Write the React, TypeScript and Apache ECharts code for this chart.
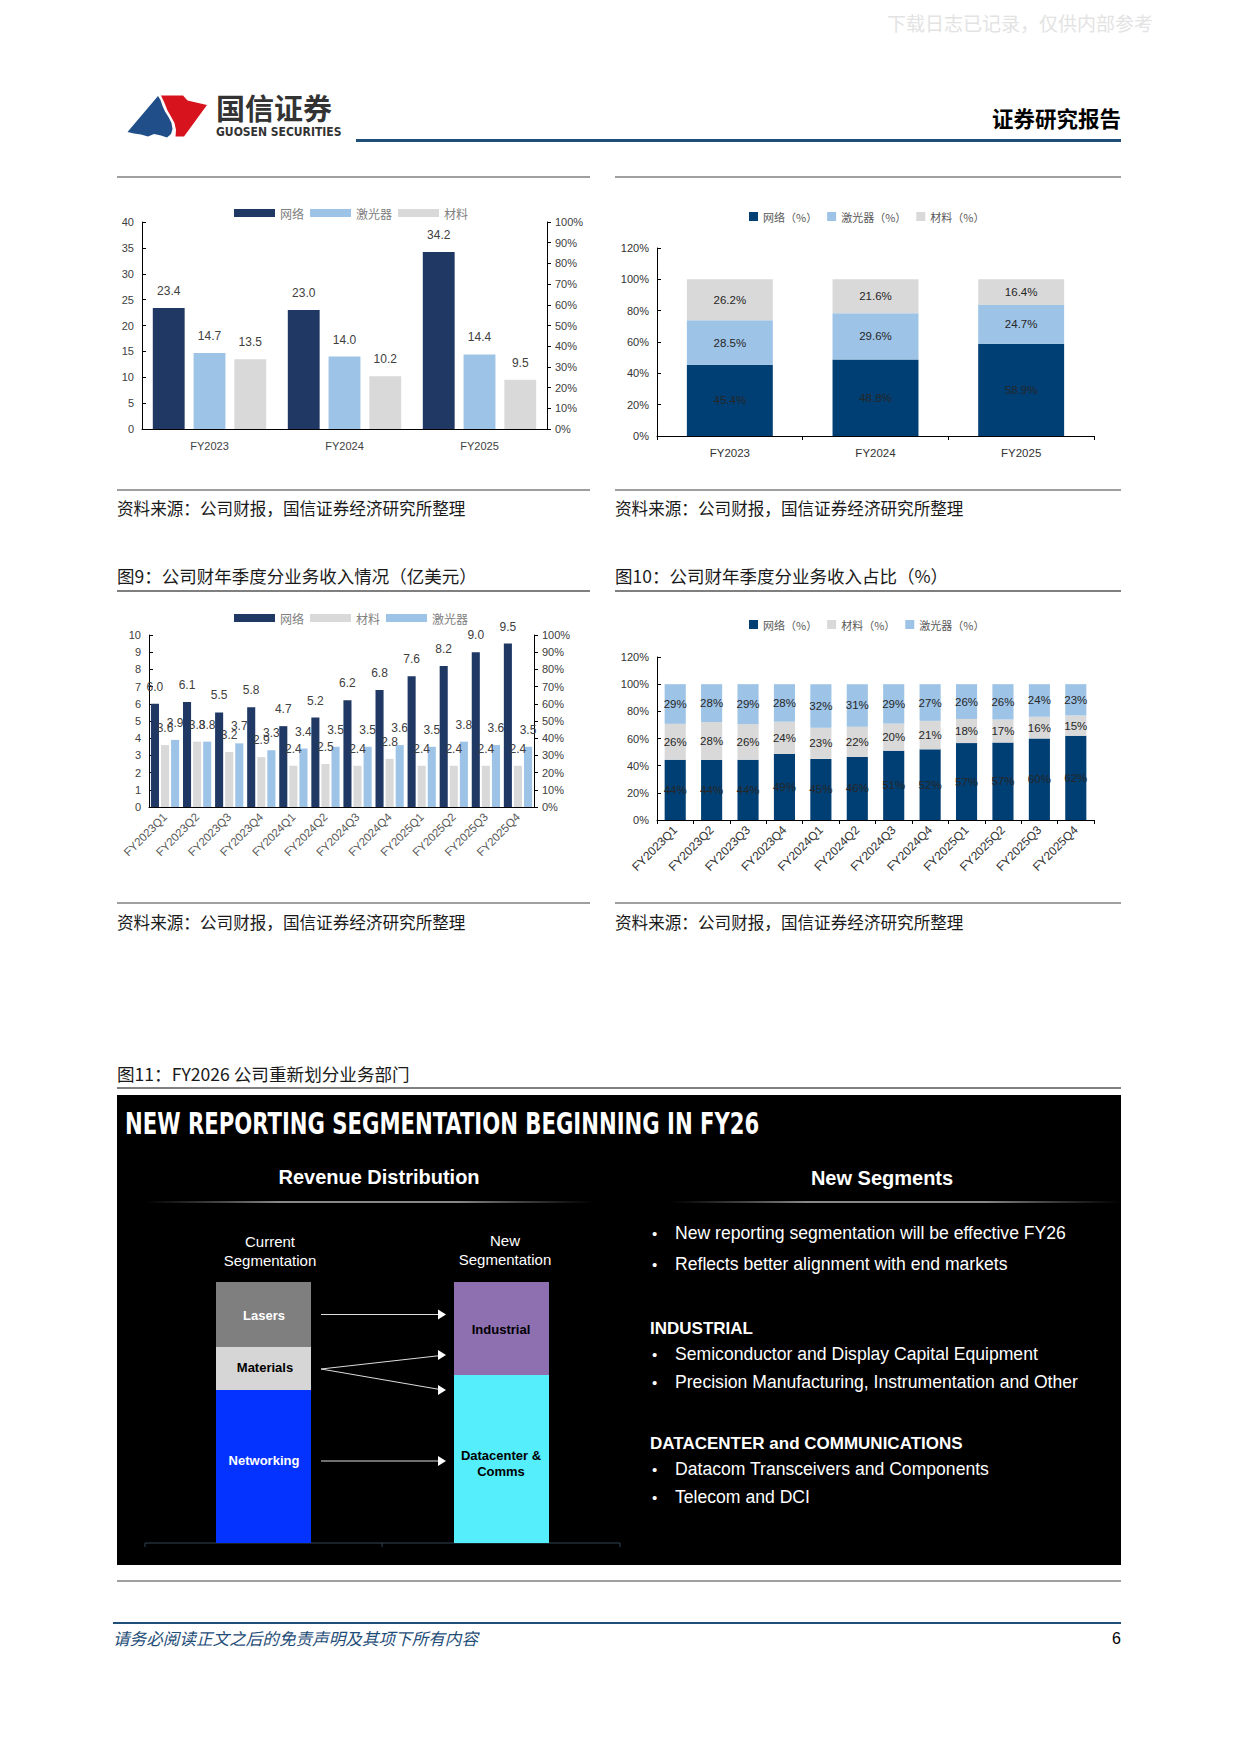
import React, { useEffect, useRef } from 'react';
import * as echarts from 'echarts';

// ---------- data ----------
const annualCats = ['FY2023', 'FY2024', 'FY2025'];
const annualNetwork = [23.4, 23.0, 34.2];
const annualLaser = [14.7, 14.0, 14.4];
const annualMaterial = [13.5, 10.2, 9.5];

const annualNetworkPct = [45.4, 48.8, 58.9];
const annualLaserPct = [28.5, 29.6, 24.7];
const annualMaterialPct = [26.2, 21.6, 16.4];

const quarterCats = [
  'FY2023Q1', 'FY2023Q2', 'FY2023Q3', 'FY2023Q4',
  'FY2024Q1', 'FY2024Q2', 'FY2024Q3', 'FY2024Q4',
  'FY2025Q1', 'FY2025Q2', 'FY2025Q3', 'FY2025Q4',
];
const qNetwork = [6.0, 6.1, 5.5, 5.8, 4.7, 5.2, 6.2, 6.8, 7.6, 8.2, 9.0, 9.5];
const qMaterial = [3.6, 3.8, 3.2, 2.9, 2.4, 2.5, 2.4, 2.8, 2.4, 2.4, 2.4, 2.4];
const qLaser = [3.9, 3.8, 3.7, 3.3, 3.4, 3.5, 3.5, 3.6, 3.5, 3.8, 3.6, 3.5];

const qNetworkPct = [44.4, 44.2, 44.4, 48.6, 45.0, 46.4, 51.0, 52.0, 56.6, 57.0, 60.0, 62.0];
const qMaterialPct = [26.4, 27.9, 26.2, 23.8, 23.0, 22.3, 20.0, 21.0, 17.8, 17.0, 16.0, 15.0];
const qLaserPct = [29.2, 27.9, 29.4, 27.6, 32.0, 31.3, 29.0, 27.0, 25.6, 26.0, 24.0, 23.0];

const leftTicks40 = { min: 0, max: 40, interval: 5 };
const leftTicks10 = { min: 0, max: 10, interval: 1 };
const pctTicks100 = { min: 0, max: 100, interval: 10 };
const pctTicks120 = { min: 0, max: 120, interval: 20 };

// ---------- styles ----------
const NAVY = '#1F3864';
const NAVY2 = '#003F74';
const LBLUE = '#9DC3E6';
const GRAY = '#D9D9D9';
const CJK = '"Noto Sans CJK SC", "Liberation Sans", sans-serif';
const SANS = '"Liberation Sans", Arial, sans-serif';
const NARROW = '"Liberation Sans Narrow", "DejaVu Sans Condensed", "Liberation Sans", sans-serif';

function txt(x: number, y: number, text: string, o: any = {}) {
  return {
    type: 'text',
    x, y,
    scaleX: o.scaleX ?? 1,
    style: {
      text,
      fontSize: o.fontSize ?? 14,
      fontFamily: o.fontFamily ?? CJK,
      fontWeight: o.fontWeight ?? 'normal',
      fontStyle: o.fontStyle ?? 'normal',
      fill: o.fill ?? '#000',
      textAlign: o.align ?? 'left',
      textVerticalAlign: 'middle',
      lineHeight: o.lineHeight,
    },
    z: 10,
  };
}
function ln(x1: number, y1: number, x2: number, y2: number, stroke: string, lineWidth = 1) {
  return { type: 'line', shape: { x1, y1, x2, y2 }, style: { stroke, lineWidth }, z: 5 };
}
function box(x: number, y: number, w: number, h: number, fill: any, z = 4) {
  return { type: 'rect', shape: { x, y, width: w, height: h }, style: { fill }, z };
}
function arrowHead(x: number, y: number) {
  return { type: 'polygon', shape: { points: [[x - 8, y - 5], [x, y], [x - 8, y + 5]] }, style: { fill: '#fff' }, z: 12 };
}
const fadeLine = (x: number, y: number, w: number) =>
  box(x, y, w, 2, {
    type: 'linear', x: 0, y: 0, x2: 1, y2: 0,
    colorStops: [
      { offset: 0, color: 'rgba(120,120,120,0)' },
      { offset: 0.3, color: 'rgba(150,150,150,0.9)' },
      { offset: 0.7, color: 'rgba(150,150,150,0.9)' },
      { offset: 1, color: 'rgba(120,120,120,0)' },
    ],
  }, 8);

const sourceText = '资料来源：公司财报，国信证券经济研究所整理';

const graphics: any[] = [
  // watermark
  txt(887, 22, '下载日志已记录，仅供内部参考', { fontSize: 19, fill: '#E3E3E3' }),
  // logo
  {
    type: 'polygon', z: 10,
    shape: { points: [[127.5, 132], [158, 96], [160.5, 100], [162.5, 106], [165, 111.5], [168.5, 117], [171.5, 123], [172.5, 129], [171, 134], [167, 137.5], [161, 135.5], [154, 134], [148, 136.5], [141, 134.5], [134, 133.5]] },
    style: { fill: '#1F4E89' },
  },
  {
    type: 'polygon', z: 10,
    shape: { points: [[161, 95.5], [183, 95.5], [187.5, 100.5], [207, 105], [184, 136.5], [175.5, 136.5], [176, 130], [174.5, 123], [171, 116.5], [167.5, 110.5], [164.5, 103]] },
    style: { fill: '#D7141E' },
  },
  txt(216, 107, '国信证券', { fontSize: 29, fill: '#333', fontWeight: 'bold' }),
  txt(216, 132, 'GUOSEN SECURITIES', { fontSize: 12, fontFamily: NARROW, fontWeight: 'bold', fill: '#333' }),
  txt(1121, 117, '证券研究报告', { fontSize: 21.5, fontWeight: 'bold', align: 'right' }),
  box(356, 139, 765, 3, '#1F4E79', 6),

  // top panels
  ln(117, 177, 590, 177, '#404040', 1.2),
  ln(615, 177, 1121, 177, '#404040', 1.2),
  ln(117, 490, 590, 490, '#404040', 1.2),
  ln(615, 490, 1121, 490, '#404040', 1.2),
  txt(117, 508, sourceText, { fontSize: 16.6, fill: '#1a1a1a' }),
  txt(615, 508, sourceText, { fontSize: 16.6, fill: '#1a1a1a' }),

  // middle panels
  txt(117, 575, '图9：公司财年季度分业务收入情况（亿美元）', { fontSize: 17.5, fill: '#1a1a1a' }),
  txt(615, 575, '图10：公司财年季度分业务收入占比（%）', { fontSize: 17.5, fill: '#1a1a1a' }),
  ln(117, 591, 590, 591, '#7F7F7F', 2),
  ln(615, 591, 1121, 591, '#7F7F7F', 2),
  ln(117, 903, 590, 903, '#404040', 1.2),
  ln(615, 903, 1121, 903, '#404040', 1.2),
  txt(117, 922, sourceText, { fontSize: 16.6, fill: '#1a1a1a' }),
  txt(615, 922, sourceText, { fontSize: 16.6, fill: '#1a1a1a' }),

  // figure 11
  txt(117, 1073, '图11：FY2026 公司重新划分业务部门', { fontSize: 17.6, fill: '#1a1a1a' }),
  ln(117, 1088, 1121, 1088, '#000', 1),
  box(117, 1095, 1004, 470, '#000', 3),
  txt(125, 1123, 'NEW REPORTING SEGMENTATION BEGINNING IN FY26', { fontSize: 31, fontFamily: NARROW, fontWeight: 'bold', fill: '#fff', scaleX: 0.76 }),
  txt(379, 1177, 'Revenue Distribution', { fontSize: 20, fontFamily: SANS, fontWeight: 'bold', fill: '#fff', align: 'center' }),
  txt(882, 1178, 'New Segments', { fontSize: 20, fontFamily: SANS, fontWeight: 'bold', fill: '#fff', align: 'center' }),
  fadeLine(144, 1201, 450),
  fadeLine(670, 1201, 451),

  txt(270, 1251, 'Current\nSegmentation', { fontSize: 15, fontFamily: SANS, fill: '#fff', align: 'center', lineHeight: 19 }),
  txt(505, 1250, 'New\nSegmentation', { fontSize: 15, fontFamily: SANS, fill: '#fff', align: 'center', lineHeight: 19 }),

  box(216, 1282, 95, 65, '#7F7F7F', 6),
  box(216, 1347, 95, 43, '#D6D6D6', 6),
  box(216, 1390, 95, 153, '#0433FF', 6),
  box(454, 1282, 95, 93, '#8E6FB0', 6),
  box(454, 1375, 95, 168, '#55EEFC', 6),
  txt(264, 1315, 'Lasers', { fontSize: 13, fontFamily: SANS, fontWeight: 'bold', fill: '#fff', align: 'center' }),
  txt(265, 1367, 'Materials', { fontSize: 13, fontFamily: SANS, fontWeight: 'bold', fill: '#000', align: 'center' }),
  txt(264, 1460, 'Networking', { fontSize: 13, fontFamily: SANS, fontWeight: 'bold', fill: '#fff', align: 'center' }),
  txt(501, 1329, 'Industrial', { fontSize: 13, fontFamily: SANS, fontWeight: 'bold', fill: '#000', align: 'center' }),
  txt(501, 1463, 'Datacenter &\nComms', { fontSize: 13, fontFamily: SANS, fontWeight: 'bold', fill: '#000', align: 'center', lineHeight: 16 }),

  ln(321, 1314.5, 440, 1314.5, '#ddd', 1),
  arrowHead(446, 1314.5),
  ln(321, 1369, 440, 1355.6, '#ddd', 1),
  arrowHead(446, 1355),
  ln(321, 1369, 440, 1389.5, '#ddd', 1),
  arrowHead(446, 1390),
  ln(321, 1461, 440, 1461, '#ddd', 1),
  arrowHead(446, 1461),

  ln(145, 1543, 620, 1543, '#2E4650', 1),
  ln(145, 1543, 145, 1547, '#2E4650', 1),
  ln(382, 1543, 382, 1547, '#2E4650', 1),
  ln(620, 1543, 620, 1547, '#2E4650', 1),

  txt(652, 1233, '•', { fontSize: 15, fontFamily: SANS, fill: '#fff' }),
  txt(675, 1233, 'New reporting segmentation will be effective FY26', { fontSize: 17.6, fontFamily: SANS, fill: '#fff' }),
  txt(652, 1264, '•', { fontSize: 15, fontFamily: SANS, fill: '#fff' }),
  txt(675, 1264, 'Reflects better alignment with end markets', { fontSize: 17.6, fontFamily: SANS, fill: '#fff' }),
  txt(650, 1328, 'INDUSTRIAL', { fontSize: 17, fontFamily: SANS, fontWeight: 'bold', fill: '#fff' }),
  txt(652, 1354, '•', { fontSize: 15, fontFamily: SANS, fill: '#fff' }),
  txt(675, 1354, 'Semiconductor and Display Capital Equipment', { fontSize: 17.6, fontFamily: SANS, fill: '#fff' }),
  txt(652, 1382, '•', { fontSize: 15, fontFamily: SANS, fill: '#fff' }),
  txt(675, 1382, 'Precision Manufacturing, Instrumentation and Other', { fontSize: 17.6, fontFamily: SANS, fill: '#fff' }),
  txt(650, 1443, 'DATACENTER and COMMUNICATIONS', { fontSize: 17, fontFamily: SANS, fontWeight: 'bold', fill: '#fff' }),
  txt(652, 1469, '•', { fontSize: 15, fontFamily: SANS, fill: '#fff' }),
  txt(675, 1469, 'Datacom Transceivers and Components', { fontSize: 17.6, fontFamily: SANS, fill: '#fff' }),
  txt(652, 1497, '•', { fontSize: 15, fontFamily: SANS, fill: '#fff' }),
  txt(675, 1497, 'Telecom and DCI', { fontSize: 17.6, fontFamily: SANS, fill: '#fff' }),

  ln(117, 1581, 1121, 1581, '#404040', 1.2),

  // footer
  ln(113, 1623, 1121, 1623, '#1F4E79', 2),
  txt(113, 1638, '请务必阅读正文之后的免责声明及其项下所有内容', { fontSize: 16.6, fontStyle: 'italic', fill: '#1F4E79' }),
  txt(1121, 1638, '6', { fontSize: 16, fontFamily: SANS, align: 'right', fill: '#000' }),
];

const axisLineBlack = { show: true, lineStyle: { color: '#000', width: 1 } };
const axisLbl = (o: any = {}) => ({ color: '#404040', fontSize: 11, fontFamily: SANS, ...o });

const legendCommon = (o: any) => ({
  orient: 'horizontal',
  icon: 'rect',
  selectedMode: false,
  padding: 0,
  ...o,
});

const option: any = {
  animation: false,
  textStyle: { fontFamily: SANS },
  grid: [
    { left: 142, top: 222, width: 405, height: 207 },
    { left: 657, top: 248, width: 437, height: 188 },
    { left: 149, top: 635, width: 385, height: 172 },
    { left: 657, top: 657, width: 437, height: 163 },
  ],
  legend: [
    legendCommon({ left: 234, top: 207, itemWidth: 41, itemHeight: 8, itemGap: 6, data: ['网络', '激光器', '材料'], textStyle: { fontSize: 12, color: '#808080', fontFamily: CJK } }),
    legendCommon({ left: 749, top: 211, itemWidth: 9, itemHeight: 9, itemGap: 10, data: ['网络（%）', '激光器（%）', '材料（%）'], textStyle: { fontSize: 11, color: '#595959', fontFamily: CJK } }),
    legendCommon({ left: 234, top: 612, itemWidth: 41, itemHeight: 8, itemGap: 6, data: ['网络', '材料', '激光器'], textStyle: { fontSize: 12, color: '#808080', fontFamily: CJK } }),
    legendCommon({ left: 749, top: 619, itemWidth: 9, itemHeight: 9, itemGap: 10, data: ['网络（%）', '材料（%）', '激光器（%）'], textStyle: { fontSize: 11, color: '#595959', fontFamily: CJK } }),
  ],
  xAxis: [
    { type: 'category', gridIndex: 0, data: annualCats, axisLine: axisLineBlack, axisTick: { show: false }, axisLabel: axisLbl({ margin: 11 }) },
    { type: 'category', gridIndex: 1, data: annualCats, axisLine: axisLineBlack, axisTick: { show: true, length: 4, lineStyle: { color: '#000' } }, axisLabel: axisLbl({ margin: 11, color: '#333', fontSize: 11.5 }) },
    { type: 'category', gridIndex: 2, data: quarterCats, axisLine: axisLineBlack, axisTick: { show: false }, axisLabel: axisLbl({ rotate: 45, interval: 0, margin: 8, color: '#595959', fontSize: 11.5 }) },
    { type: 'category', gridIndex: 3, data: quarterCats, axisLine: axisLineBlack, axisTick: { show: true, length: 4, lineStyle: { color: '#000' } }, axisLabel: axisLbl({ rotate: 45, interval: 0, margin: 8, color: '#333', fontSize: 12 }) },
  ],
  yAxis: [
    { type: 'value', gridIndex: 0, ...leftTicks40, axisLine: axisLineBlack, axisTick: { show: true, inside: true, length: 4, lineStyle: { color: '#000' } }, splitLine: { show: false }, axisLabel: axisLbl({ margin: 8 }) },
    { type: 'value', gridIndex: 0, position: 'right', ...pctTicks100, axisLine: axisLineBlack, axisTick: { show: true, length: 4, lineStyle: { color: '#000' } }, splitLine: { show: false }, axisLabel: axisLbl({ formatter: '{value}%', margin: 8 }) },
    { type: 'value', gridIndex: 1, ...pctTicks120, axisLine: axisLineBlack, axisTick: { show: true, inside: true, length: 4, lineStyle: { color: '#000' } }, splitLine: { show: false }, axisLabel: axisLbl({ formatter: '{value}%', color: '#333', margin: 8 }) },
    { type: 'value', gridIndex: 2, ...leftTicks10, axisLine: axisLineBlack, axisTick: { show: true, inside: true, length: 4, lineStyle: { color: '#000' } }, splitLine: { show: false }, axisLabel: axisLbl({ margin: 8 }) },
    { type: 'value', gridIndex: 2, position: 'right', ...pctTicks100, axisLine: axisLineBlack, axisTick: { show: true, length: 4, lineStyle: { color: '#000' } }, splitLine: { show: false }, axisLabel: axisLbl({ formatter: '{value}%', margin: 8 }) },
    { type: 'value', gridIndex: 3, ...pctTicks120, axisLine: axisLineBlack, axisTick: { show: true, inside: true, length: 4, lineStyle: { color: '#000' } }, splitLine: { show: false }, axisLabel: axisLbl({ formatter: '{value}%', color: '#333', margin: 8 }) },
  ],
  series: [
    // chart 1
    ...[
      ['网络', annualNetwork, NAVY],
      ['激光器', annualLaser, LBLUE],
      ['材料', annualMaterial, GRAY],
    ].map(([name, data, color]: any) => ({
      type: 'bar', name, data, xAxisIndex: 0, yAxisIndex: 0,
      barGap: '28%', barCategoryGap: '16%',
      itemStyle: { color },
      label: { show: true, position: 'top', distance: 11, fontSize: 12, color: '#404040', formatter: (p: any) => p.value.toFixed(1) },
    })),
    // chart 2
    ...[
      ['网络（%）', annualNetworkPct, NAVY2],
      ['激光器（%）', annualLaserPct, LBLUE],
      ['材料（%）', annualMaterialPct, GRAY],
    ].map(([name, data, color]: any) => ({
      type: 'bar', name, data, xAxisIndex: 1, yAxisIndex: 2, stack: 'a2',
      barCategoryGap: '41%',
      itemStyle: { color },
      label: { show: true, position: 'inside', fontSize: 11.5, color: '#262626', formatter: (p: any) => p.value.toFixed(1) + '%' },
    })),
    // chart 3
    ...[
      ['网络', qNetwork, NAVY],
      ['材料', qMaterial, GRAY],
      ['激光器', qLaser, LBLUE],
    ].map(([name, data, color]: any) => ({
      type: 'bar', name, data, xAxisIndex: 2, yAxisIndex: 3,
      barGap: '25%', barCategoryGap: '12%',
      itemStyle: { color },
      label: { show: true, position: 'top', distance: 11, fontSize: 12, color: '#404040', formatter: (p: any) => p.value.toFixed(1) },
    })),
    // chart 4
    ...[
      ['网络（%）', qNetworkPct, NAVY2],
      ['材料（%）', qMaterialPct, GRAY],
      ['激光器（%）', qLaserPct, LBLUE],
    ].map(([name, data, color]: any) => ({
      type: 'bar', name, data, xAxisIndex: 3, yAxisIndex: 5, stack: 'a4',
      barCategoryGap: '42%',
      itemStyle: { color },
      label: { show: true, position: 'inside', fontSize: 11.5, color: '#262626', formatter: (p: any) => Math.round(p.value) + '%' },
    })),
  ],
  graphic: graphics,
};

export default function App() {
  const ref = useRef<HTMLDivElement>(null);
  useEffect(() => {
    const chart = echarts.init(ref.current!, null, { renderer: 'svg' });
    chart.setOption(option);
    return () => chart.dispose();
  }, []);
  return (
    <div
      ref={ref}
      style={{ position: 'absolute', left: 0, top: 0, width: 1240, height: 1753, background: '#fff' }}
    />
  );
}
